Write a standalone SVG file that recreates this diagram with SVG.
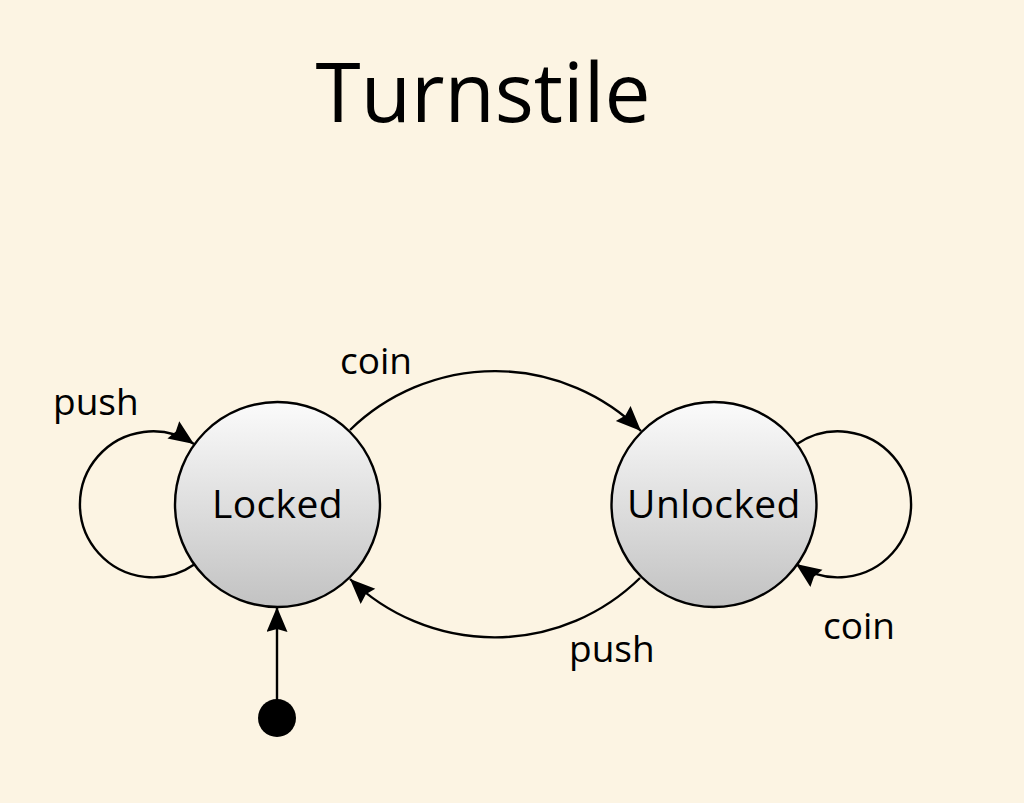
<svg xmlns="http://www.w3.org/2000/svg" width="1024" height="803" viewBox="0 0 1024 803">
<style>
.bg{fill:#fcf4e3}
.state{stroke:#000;stroke-width:2.4;fill:url(#g)}
.edge{fill:none;stroke:#000;stroke-width:2.4}
text{font-family:"Open Sans","Noto Sans","DejaVu Sans",sans-serif;fill:#000}
.lbl{font-size:37px}
.name{font-size:39px;text-anchor:middle;letter-spacing:0.4px}
.title{font-size:82px;text-anchor:middle}
</style>
<defs>
<linearGradient id="g" x1="0" y1="0" x2="0" y2="1">
<stop offset="0" stop-color="#fbfbfb"/>
<stop offset="1" stop-color="#c2c2c2"/>
</linearGradient>
<marker id="arr" markerUnits="userSpaceOnUse" markerWidth="28" markerHeight="24" refX="25" refY="10.5" orient="auto">
<path d="M0,0 L25,10.5 L0,21 L3,10.5 Z" fill="#000"/>
</marker>
</defs>
<rect class="bg" x="0" y="0" width="1024" height="803"/>
<text class="title" x="483" y="122">Turnstile</text>
<g id="connectors">
<path class="edge" d="M350,430 A208,208 0 0 1 641,431" marker-end="url(#arr)"/>
<path class="edge" d="M640,578 A208,208 0 0 1 350,579" marker-end="url(#arr)"/>
<path class="edge" d="M195,564 A73,73 0 1 1 194,444" marker-end="url(#arr)"/>
<path class="edge" d="M797,444 A73,73 0 1 1 796,564" marker-end="url(#arr)"/>
<line class="edge" x1="277" y1="700" x2="277" y2="607" marker-end="url(#arr)"/>
<text class="lbl" x="340" y="374">coin</text>
<text class="lbl" x="53" y="415">push</text>
<text class="lbl" x="823" y="639">coin</text>
<text class="lbl" x="569" y="662">push</text>
</g>
<g id="initial">
<circle cx="277" cy="718" r="19" fill="#000"/>
</g>
<g id="locked">
<circle class="state" cx="277.5" cy="504.5" r="102.5"/>
<text class="name" x="277.5" y="518">Locked</text>
</g>
<g id="unlocked">
<circle class="state" cx="714" cy="504.5" r="102.5"/>
<text class="name" x="714" y="518">Unlocked</text>
</g>
</svg>
